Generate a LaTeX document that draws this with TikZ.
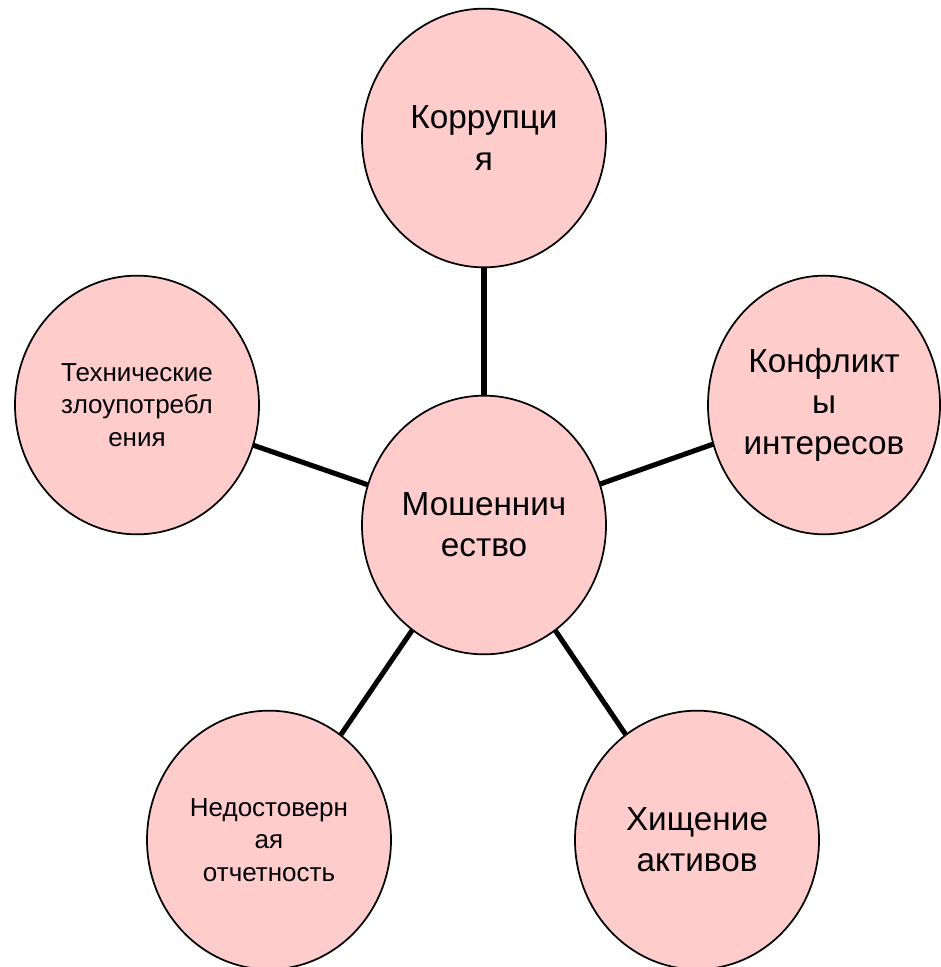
\documentclass[tikz,border=0pt]{standalone}
\usepackage{fontspec}
\setmainfont{Liberation Sans}
\usepackage{xcolor}
\definecolor{petal}{HTML}{FFCCCC}
\definecolor{ink}{HTML}{000000}
\usepackage{tikz}
\usetikzlibrary{positioning,shapes.geometric,backgrounds}

\begin{document}
\begin{tikzpicture}[x=0.75pt,y=-0.75pt,
  bubble/.style={ellipse,draw=ink,line width=1.3pt,fill=petal,inner sep=0pt,
    minimum width=183pt,minimum height=194pt,align=center,text=ink},
  bigtxt/.style={font=\fontsize{25}{31}\selectfont},
  smalltxt/.style={font=\fontsize{19.5}{24.5}\selectfont},
  link/.style={draw=ink,line width=3.8pt}]
\useasboundingbox (0,0) rectangle (940,967);

% Central circle
\node[bubble,bigtxt] (fraud) at (484,525) {Мошеннич\\ество};

% Outer circles
\node[bubble,bigtxt] (corr) at (484,138) {Коррупци\\я};
\node[bubble,bigtxt,minimum width=174pt] (conf) at (824,405) {Конфликт\\ы\\интересов};
\node[bubble,smalltxt] (tech) at (137,405) {Технические\\злоупотребл\\ения};
\node[bubble,smalltxt] (report) at (269,840) {Недостоверн\\ая\\отчетность};
\node[bubble,bigtxt] (theft) at (697,840) {Хищение\\активов};

% Spokes
\begin{scope}[on background layer]
\foreach \n in {corr,conf,tech,report,theft} {
  \draw[link] (fraud.center) -- (\n.center);
}
\end{scope}

\end{tikzpicture}
\end{document}
